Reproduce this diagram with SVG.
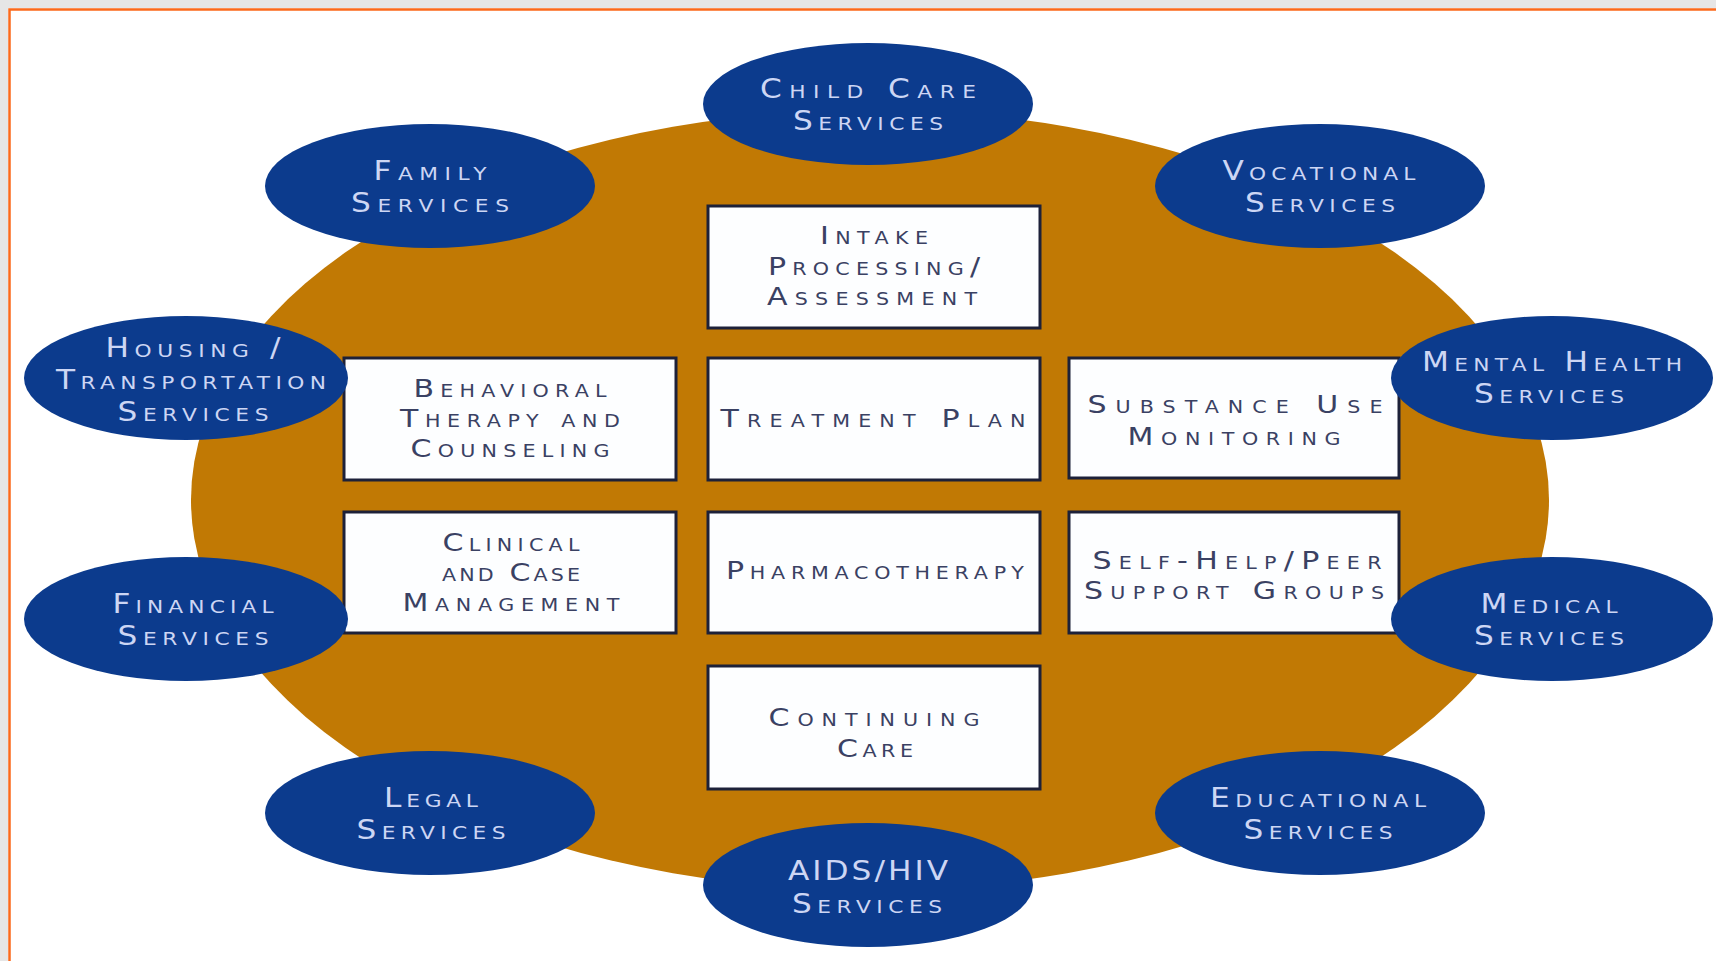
<svg xmlns="http://www.w3.org/2000/svg" width="1716" height="961" viewBox="0 0 1716 961">
<style>
.oval{fill:#0c3b8d}
.box{fill:#fdfeff;stroke:#1d2139;stroke-width:3}
.ot{font-family:"DejaVu Sans",sans-serif;font-size:26px;font-variant:small-caps;fill:#cdd6f4;text-anchor:middle}
.bt{font-family:"DejaVu Sans",sans-serif;font-size:25px;font-variant:small-caps;fill:#3a4163;text-anchor:middle}
</style>
<rect x="0" y="0" width="1716" height="961" fill="#ffffff"/>
<rect x="0" y="0" width="1716" height="8" fill="#e6e6e6"/>
<rect x="0" y="0" width="8" height="961" fill="#e6e6e6"/>
<path d="M9.5 961 V9.5 H1716" fill="none" stroke="#fb6a1c" stroke-width="2.5"/>
<ellipse id="hub" cx="870" cy="500" rx="679" ry="390" fill="#c17904"/>
<g id="connectors"/>

<g id="intake"><rect class="box" x="708" y="206" width="332" height="122"/>
<text class="bt" transform="translate(874 244) scale(1.2 1)" textLength="90" lengthAdjust="spacing">Intake</text>
<text class="bt" transform="translate(874 275) scale(1.2 1)" textLength="176.7" lengthAdjust="spacing">Processing/</text>
<text class="bt" transform="translate(872 305) scale(1.2 1)" textLength="175" lengthAdjust="spacing">Assessment</text></g>

<g id="behavioral"><rect class="box" x="344" y="358" width="332" height="122"/>
<text class="bt" transform="translate(510 397) scale(1.2 1)" textLength="160.8" lengthAdjust="spacing">Behavioral</text>
<text class="bt" transform="translate(510 427) scale(1.2 1)" textLength="183.3" lengthAdjust="spacing">Therapy and</text>
<text class="bt" transform="translate(510 457) scale(1.2 1)" textLength="165.8" lengthAdjust="spacing">Counseling</text></g>

<g id="treatment"><rect class="box" x="708" y="358" width="332" height="122"/>
<text class="bt" transform="translate(873 427) scale(1.2 1)" textLength="254.2" lengthAdjust="spacing">Treatment Plan</text></g>

<g id="substance"><rect class="box" x="1069" y="358" width="330" height="120"/>
<text class="bt" transform="translate(1235 413) scale(1.2 1)" textLength="245.8" lengthAdjust="spacing">Substance Use</text>
<text class="bt" transform="translate(1234 445) scale(1.2 1)" textLength="177.5" lengthAdjust="spacing">Monitoring</text></g>

<g id="clinical"><rect class="box" x="344" y="512" width="332" height="121"/>
<text class="bt" transform="translate(511 551) scale(1.2 1)" textLength="114.2" lengthAdjust="spacing">Clinical</text>
<text class="bt" transform="translate(511 581) scale(1.2 1)" textLength="115" lengthAdjust="spacing">and Case</text>
<text class="bt" transform="translate(511 611) scale(1.2 1)" textLength="180.8" lengthAdjust="spacing">Management</text></g>

<g id="pharmaco"><rect class="box" x="708" y="512" width="332" height="121"/>
<text class="bt" transform="translate(875 579) scale(1.2 1)" textLength="248.3" lengthAdjust="spacing">Pharmacotherapy</text></g>

<g id="selfhelp"><rect class="box" x="1069" y="512" width="330" height="121"/>
<text class="bt" transform="translate(1237 569) scale(1.2 1)" textLength="240.8" lengthAdjust="spacing">Self-Help/Peer</text>
<text class="bt" transform="translate(1234 599) scale(1.2 1)" textLength="250" lengthAdjust="spacing">Support Groups</text></g>

<g id="continuing"><rect class="box" x="708" y="666" width="332" height="123"/>
<text class="bt" transform="translate(874 726) scale(1.2 1)" textLength="175.8" lengthAdjust="spacing">Continuing</text>
<text class="bt" transform="translate(875 757) scale(1.2 1)" textLength="63.3" lengthAdjust="spacing">Care</text></g>

<g id="childcare"><ellipse class="oval" cx="868" cy="104" rx="165" ry="61"/>
<text class="ot" transform="translate(868 98) scale(1.2 1)" textLength="180" lengthAdjust="spacing">Child Care</text>
<text class="ot" transform="translate(868 130) scale(1.2 1)" textLength="125" lengthAdjust="spacing">Services</text></g>

<g id="family"><ellipse class="oval" cx="430" cy="186" rx="165" ry="62"/>
<text class="ot" transform="translate(430 180) scale(1.2 1)" textLength="94.2" lengthAdjust="spacing">Family</text>
<text class="ot" transform="translate(430 212) scale(1.2 1)" textLength="131.7" lengthAdjust="spacing">Services</text></g>

<g id="vocational"><ellipse class="oval" cx="1320" cy="186" rx="165" ry="62"/>
<text class="ot" transform="translate(1319 180) scale(1.2 1)" textLength="160.8" lengthAdjust="spacing">Vocational</text>
<text class="ot" transform="translate(1320 212) scale(1.2 1)" textLength="125" lengthAdjust="spacing">Services</text></g>

<g id="housing"><ellipse class="oval" cx="186" cy="378" rx="162" ry="62"/>
<text class="ot" transform="translate(193 357) scale(1.2 1)" textLength="145.8" lengthAdjust="spacing">Housing /</text>
<text class="ot" transform="translate(191 389) scale(1.2 1)" textLength="225" lengthAdjust="spacing">Transportation</text>
<text class="ot" transform="translate(193 421) scale(1.2 1)" textLength="125.8" lengthAdjust="spacing">Services</text></g>

<g id="mental"><ellipse class="oval" cx="1552" cy="378" rx="161" ry="62"/>
<text class="ot" transform="translate(1552 371) scale(1.2 1)" textLength="216.7" lengthAdjust="spacing">Mental Health</text>
<text class="ot" transform="translate(1549 403) scale(1.2 1)" textLength="125" lengthAdjust="spacing">Services</text></g>

<g id="financial"><ellipse class="oval" cx="186" cy="619" rx="162" ry="62"/>
<text class="ot" transform="translate(193 613) scale(1.2 1)" textLength="134.2" lengthAdjust="spacing">Financial</text>
<text class="ot" transform="translate(193 645) scale(1.2 1)" textLength="125.8" lengthAdjust="spacing">Services</text></g>

<g id="medical"><ellipse class="oval" cx="1552" cy="619" rx="161" ry="62"/>
<text class="ot" transform="translate(1549 613) scale(1.2 1)" textLength="114.2" lengthAdjust="spacing">Medical</text>
<text class="ot" transform="translate(1549 645) scale(1.2 1)" textLength="125" lengthAdjust="spacing">Services</text></g>

<g id="legal"><ellipse class="oval" cx="430" cy="813" rx="165" ry="62"/>
<text class="ot" transform="translate(431 807) scale(1.2 1)" textLength="78.3" lengthAdjust="spacing">Legal</text>
<text class="ot" transform="translate(431 839) scale(1.2 1)" textLength="124.2" lengthAdjust="spacing">Services</text></g>

<g id="educational"><ellipse class="oval" cx="1320" cy="813" rx="165" ry="62"/>
<text class="ot" transform="translate(1318 807) scale(1.2 1)" textLength="180" lengthAdjust="spacing">Educational</text>
<text class="ot" transform="translate(1318 839) scale(1.2 1)" textLength="124.2" lengthAdjust="spacing">Services</text></g>

<g id="aids"><ellipse class="oval" cx="868" cy="885" rx="165" ry="62"/>
<text class="ot" transform="translate(868 880) scale(1.2 1)" textLength="133.3" lengthAdjust="spacing">AIDS/HIV</text>
<text class="ot" transform="translate(867 913) scale(1.2 1)" textLength="125" lengthAdjust="spacing">Services</text></g>
</svg>
